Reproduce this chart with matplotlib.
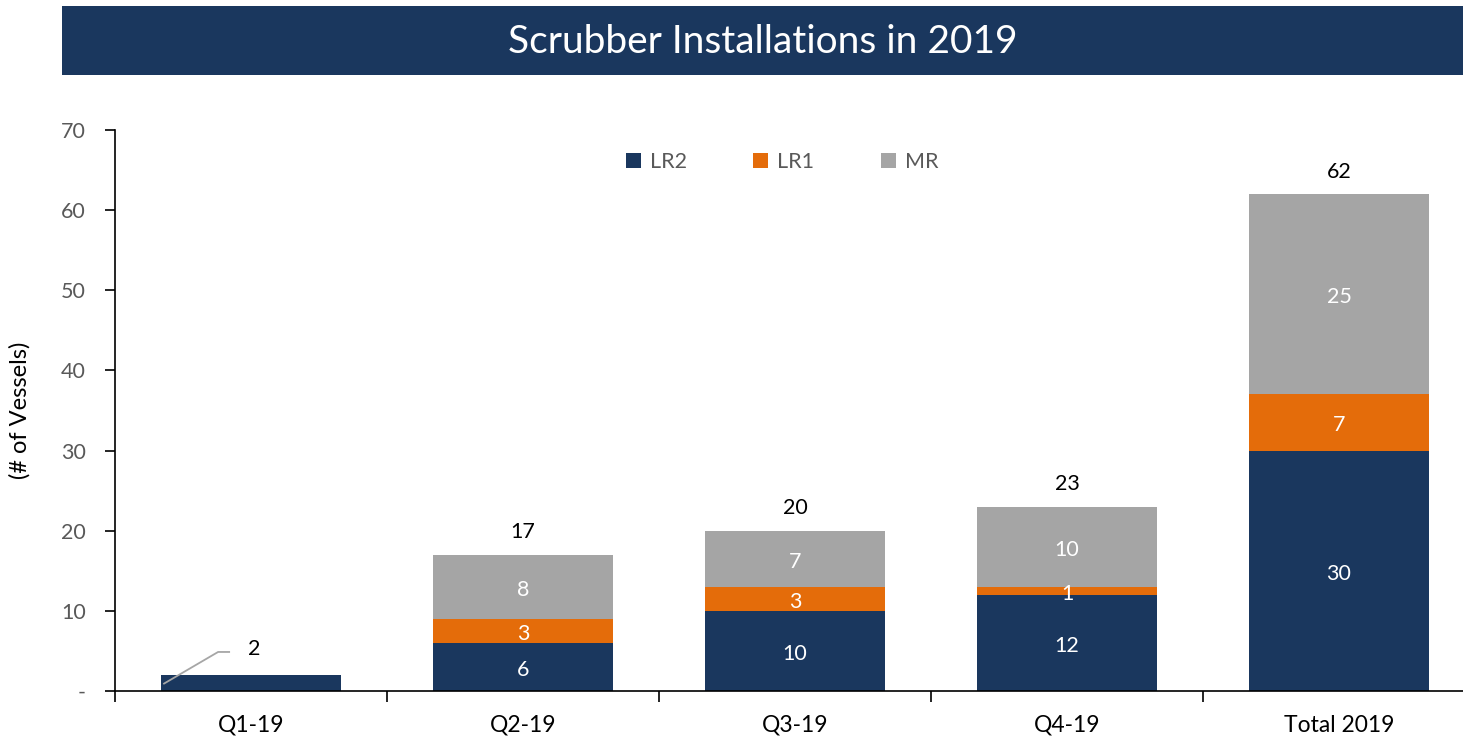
import matplotlib
matplotlib.use("Agg")
import matplotlib.pyplot as plt
from matplotlib.patches import Rectangle
import numpy as np

plt.rcParams['font.family'] = ['Lato', 'DejaVu Sans']

categories = ["Q1-19", "Q2-19", "Q3-19", "Q4-19", "Total 2019"]
lr2 = [2, 6, 10, 12, 30]
lr1 = [0, 3, 3, 1, 7]
mr = [0, 8, 7, 10, 25]
series_names = ["LR2", "LR1", "MR"]
colors = ["#1A375E", "#E46C0A", "#A5A5A5"]
ytick_vals = [0, 10, 20, 30, 40, 50, 60, 70]
ytick_labels = ["-", "10", "20", "30", "40", "50", "60", "70"]

W, H = 1463, 737
fig = plt.figure(figsize=(W / 100, H / 100), dpi=100)

# Title banner
banner = Rectangle((62 / W, 1 - 75 / H), 1.0, (75 - 6) / H, transform=fig.transFigure,
                   facecolor="#1A375E", edgecolor="none", zorder=0)
fig.patches.append(banner)
fig.text(763 / W, 1 - 42 / H, "Scrubber Installations in 2019", color="white",
         fontsize=28, ha="center", va="center")

ax_left = 115 / W
ax_right = 1475 / W
ax_bottom = 1 - 691 / H
ax_top = 1 - 130 / H
ax = fig.add_axes([ax_left, ax_bottom, ax_right - ax_left, ax_top - ax_bottom])

x = np.arange(len(categories))
width = 0.665
bottoms = np.zeros(len(categories))
series = [lr2, lr1, mr]
bar_groups = []
for vals, name, c in zip(series, series_names, colors):
    bars = ax.bar(x, vals, width, bottom=bottoms, color=c, label=name, zorder=2)
    bar_groups.append((bars, vals, bottoms.copy()))
    bottoms = bottoms + np.array(vals)

# in-bar labels (skip Q1 which uses a leader annotation)
for bars, vals, bots in bar_groups:
    for i, v in enumerate(vals):
        if i == 0 or v == 0:
            continue
        ax.text(x[i], bots[i] + v / 2 - 0.35, str(v), ha="center", va="center",
                color="white", fontsize=15.5)

totals = bottoms
for i, t in enumerate(totals):
    if i == 0:
        continue
    ax.text(x[i], t + 2.8, str(int(t)), ha="center", va="center", color="black", fontsize=15.5)

# Q1 leader line annotation
x0 = x[0]
ax.plot([x0 - width / 2 + 0.01, x0 - 0.121, x0 - 0.077], [0.87, 4.87, 4.87],
        color="#A6A6A6", lw=1.3, zorder=3, solid_capstyle="butt")
ax.text(x0 + 0.011, 5.2, str(int(totals[0])), ha="center", va="center",
        fontsize=15.5, color="black")

ax.set_xlim(-0.5, 4.5)
ax.set_ylim(0, 70)
ax.set_yticks(ytick_vals)
ax.set_yticklabels(ytick_labels, color="#595959", fontsize=15.5)
ax.set_xticks(x)
ax.set_xticklabels(categories, fontsize=16.5, color="black")
ax.set_xticks(np.arange(-0.5, 5.0, 1.0), minor=True)
ax.tick_params(axis="x", which="major", length=0, pad=17)
ax.tick_params(axis="x", which="minor", length=8, width=1.2, color="black", direction="out")
ax.tick_params(axis="y", length=7, width=1.2, color="black", direction="out", pad=14)
for s in ["top", "right"]:
    ax.spines[s].set_visible(False)
ax.spines["left"].set_linewidth(1.2)
ax.spines["bottom"].set_linewidth(1.2)
ax.spines["left"].set_bounds(0, 70)

ax.set_ylabel("(# of Vessels)", fontsize=17, color="black")
ax.yaxis.set_label_coords(-0.062, 0.5)

leg = ax.legend(loc="center", bbox_to_anchor=((782 - 115) / (1475 - 115), (691 - 162) / (691 - 130)),
                ncol=3, frameon=False, fontsize=15.5, handlelength=0.7, handleheight=0.7,
                columnspacing=3.1, handletextpad=0.4)
for t in leg.get_texts():
    t.set_color("#595959")

fig.savefig("out.png", dpi=100)
